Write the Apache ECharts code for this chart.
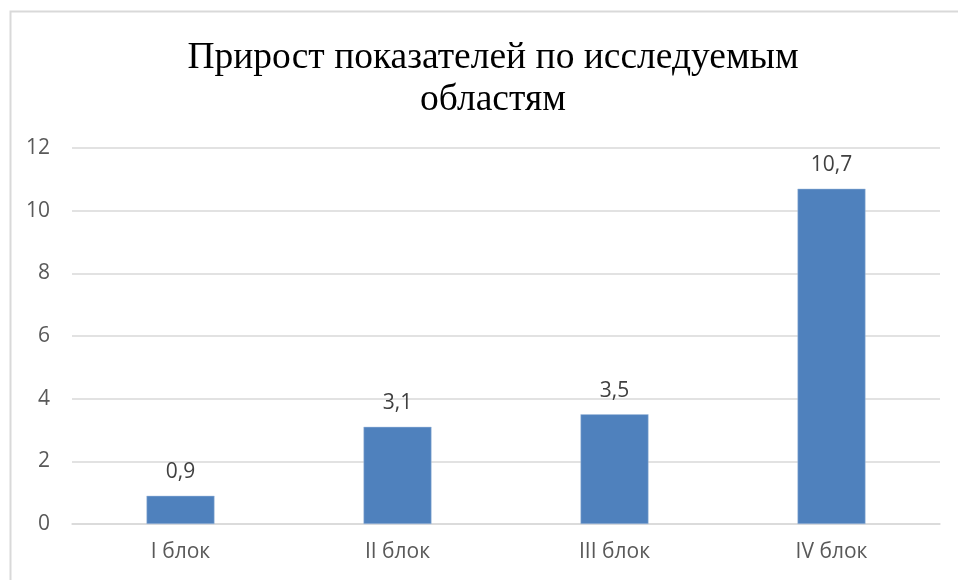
<!DOCTYPE html>
<html>
<head>
<meta charset="utf-8">
<script src="https://cdn.jsdelivr.net/npm/echarts@6/dist/echarts.min.js"></script>
<style>
html, body { margin: 0; padding: 0; background: #fff; }
#main { width: 958px; height: 580px; }
</style>
</head>
<body>
<div id="main"></div>
<script>
// данные диаграммы
var categories = ['I блок', 'II блок', 'III блок', 'IV блок'];
var values = [0.9, 3.1, 3.5, 10.7];
var titleText = 'Прирост показателей по исследуемым\nобластям';

var myChart = echarts.init(document.getElementById('main'), null, {renderer: 'canvas'});

var option = {
    backgroundColor: '#fff',
    animation: false,
    graphic: [{
        type: 'rect',
        left: 8,
        top: 9,
        shape: {width: 1000, height: 600},
        style: {fill: 'none', stroke: '#d9d9d9', lineWidth: 2},
        silent: true
    }],
    title: {
        text: titleText,
        left: 488,
        textAlign: 'center',
        top: 32,
        textStyle: {
            fontFamily: 'Liberation Serif',
            fontWeight: 'normal',
            fontSize: 37.5,
            lineHeight: 42,
            color: '#000'
        }
    },
    grid: {
        left: 72,
        right: 18,
        top: 148,
        bottom: 56
    },
    xAxis: {
        type: 'category',
        data: categories,
        axisLine: {lineStyle: {color: '#d9d9d9', width: 1.5}},
        axisTick: {show: false},
        axisLabel: {
            margin: 18,
            color: '#595959',
            fontSize: 21,
            fontFamily: 'Open Sans'
        }
    },
    yAxis: {
        type: 'value',
        min: 0,
        max: 12,
        interval: 2,
        axisLine: {show: false},
        axisTick: {show: false},
        splitLine: {lineStyle: {color: '#d9d9d9', width: 1.5}},
        axisLabel: {
            margin: 22,
            color: '#595959',
            fontSize: 21,
            fontFamily: 'Open Sans'
        }
    },
    series: [{
        type: 'bar',
        data: values,
        barWidth: 68,
        itemStyle: {color: '#4f81bd', borderColor: '#a9c0de', borderWidth: 0.5},
        label: {
            show: true,
            position: 'top',
            distance: 13,
            color: '#404040',
            fontSize: 21,
            fontFamily: 'Open Sans',
            formatter: function (p) {
                return String(p.value).replace('.', ',');
            }
        }
    }]
};
myChart.setOption(option);
</script>
</body>
</html>
